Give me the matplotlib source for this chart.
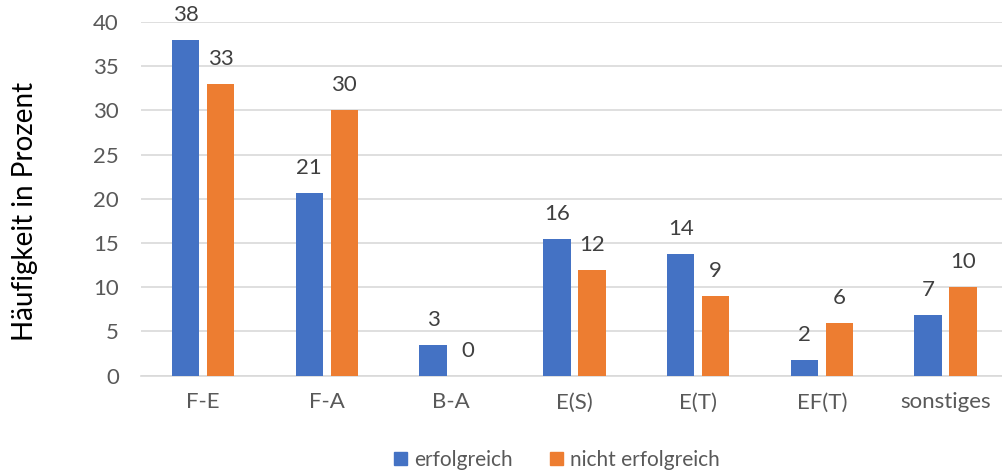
import numpy as np
import matplotlib.pyplot as plt
from matplotlib.patches import Patch

# Daten
kategorien = ['F-E', 'F-A', 'B-A', 'E(S)', 'E(T)', 'EF(T)', 'sonstiges']
erfolgreich = [37.97, 20.7, 3.45, 15.5, 13.8, 1.75, 6.87]
nicht_erfolgreich = [33.0, 30.0, 0.0, 12.0, 9.0, 6.0, 10.0]
label_erfolgreich = ['38', '21', '3', '16', '14', '2', '7']
label_nicht = ['33', '30', '0', '12', '9', '6', '10']

BLAU = '#4472C4'
ORANGE = '#ED7D31'

plt.rcParams['font.family'] = ['Lato', 'DejaVu Sans']

fig = plt.figure(figsize=(10.02, 4.73), dpi=100)
ax = fig.add_axes([0.1409, 0.2057, 0.8647, 0.7478])

x = np.arange(len(kategorien))
breite = 0.223
versatz = 0.1414

ax.bar(x - versatz, erfolgreich, breite, color=BLAU, zorder=3)
ax.bar(x + versatz, nicht_erfolgreich, breite, color=ORANGE, zorder=3)

# Datenbeschriftungen über den Balken
for i in range(len(kategorien)):
    ax.annotate(label_erfolgreich[i], (x[i] - versatz, erfolgreich[i]),
                xytext=(0, 25), textcoords='offset pixels',
                ha='center', va='center', fontsize=16, color='#404040')
    ax.annotate(label_nicht[i], (x[i] + versatz, nicht_erfolgreich[i]),
                xytext=(0, 25), textcoords='offset pixels',
                ha='center', va='center', fontsize=16, color='#404040')

ax.set_xlim(-0.5, len(kategorien) - 0.5)
ax.set_ylim(0, 40)
ax.set_yticks(range(0, 41, 5))
ax.set_xticks(x)
ax.set_xticklabels(kategorien)
ax.tick_params(axis='both', length=0, labelsize=16, labelcolor='#595959')
ax.tick_params(axis='y', pad=16)
ax.tick_params(axis='x', pad=12)

ax.grid(axis='y', color='#D9D9D9', linewidth=1.2, zorder=0)
for s in ['top', 'right', 'left']:
    ax.spines[s].set_visible(False)
ax.spines['bottom'].set_color('#D9D9D9')
ax.spines['bottom'].set_linewidth(1.2)

fig.text(0.025, 0.553, 'Häufigkeit in Prozent', rotation=90,
         ha='center', va='center', fontsize=20, color='black')

handles = [Patch(color=BLAU, label='erfolgreich'),
           Patch(color=ORANGE, label='nicht erfolgreich')]
fig.legend(handles=handles, loc='center', bbox_to_anchor=(0.556, 0.027),
           ncol=2, frameon=False, fontsize=15, handlelength=0.6,
           handleheight=0.6, handletextpad=0.35, columnspacing=1.8,
           labelcolor='#595959')

fig.savefig('out.png', dpi=100)
